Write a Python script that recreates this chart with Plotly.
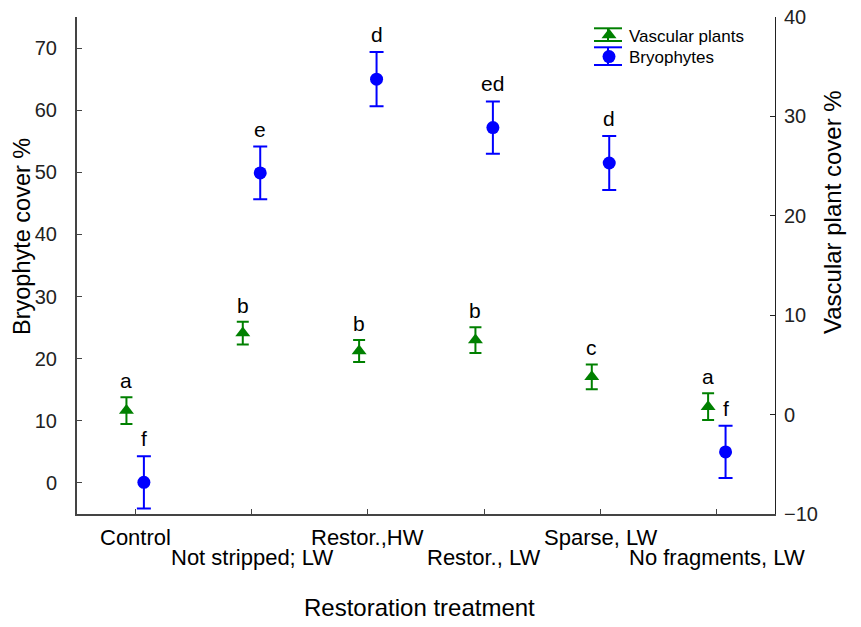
import plotly.graph_objects as go

# ---- data ----
treatments = ["Control", "Not stripped; LW", "Restor.,HW", "Restor., LW", "Sparse, LW", "No fragments, LW"]
bryo_mean = [0.1, 49.9, 65.0, 57.2, 51.5, 5.0]
bryo_err = [4.2, 4.25, 4.35, 4.2, 4.35, 4.2]
bryo_letters = ["f", "e", "d", "ed", "d", "f"]
vasc_mean = [0.4, 8.2, 6.4, 7.5, 3.8, 0.8]
vasc_err = [1.35, 1.15, 1.1, 1.3, 1.25, 1.35]
vasc_letters = ["a", "b", "b", "b", "c", "a"]
left_ticks = [0, 10, 20, 30, 40, 50, 60, 70]
right_ticks = [-10, 0, 10, 20, 30, 40]

GREEN = "#008000"
BLUE = "#0000FF"
FONT = "Liberation Sans, Arial, sans-serif"
OFF = 0.075

W, H = 861, 627
ML, MR, MT, MB = 77, 86, 17, 113
PW, PH = W - ML - MR, H - MT - MB


def px_x(px):  # window pixel -> paper x
    return (px - ML) / PW


def px_y(py):  # window pixel -> paper y
    return (H - MB - py) / PH


idx = list(range(len(treatments)))
xv = [i - OFF for i in idx]
xb = [i + OFF for i in idx]

fig = go.Figure()
fig.add_trace(go.Scatter(
    x=xv, y=vasc_mean, yaxis="y2", mode="markers", name="Vascular plants", legend="legend",
    marker=dict(symbol="triangle-up", size=13, color=GREEN),
    error_y=dict(type="data", array=vasc_err, color=GREEN, thickness=2, width=6),
))
fig.add_trace(go.Scatter(
    x=xb, y=bryo_mean, yaxis="y", mode="markers", name="Bryophytes", legend="legend2",
    marker=dict(symbol="circle", size=13, color=BLUE),
    error_y=dict(type="data", array=bryo_err, color=BLUE, thickness=2, width=7),
))

ann = []
for i in idx:
    ann.append(dict(x=xv[i], y=vasc_mean[i] + vasc_err[i], xref="x", yref="y2",
                    text=vasc_letters[i], showarrow=False, yanchor="bottom", yshift=3,
                    font=dict(size=21, color="black", family=FONT)))
    ann.append(dict(x=xb[i], y=bryo_mean[i] + bryo_err[i], xref="x", yref="y",
                    text=bryo_letters[i], showarrow=False, yanchor="bottom", yshift=4,
                    font=dict(size=21, color="black", family=FONT)))
    ann.append(dict(x=i, y=0, xref="x", yref="paper", text=treatments[i], showarrow=False,
                    yanchor="middle", yshift=-23 if i % 2 == 0 else -43,
                    font=dict(size=22, color="black", family=FONT)))

ann.append(dict(x=px_x(419), y=px_y(607), xref="paper", yref="paper", text="Restoration treatment",
                showarrow=False, xanchor="center", yanchor="middle",
                font=dict(size=24, color="black", family=FONT)))
ann.append(dict(x=px_x(22), y=px_y(237), xref="paper", yref="paper", text="Bryophyte cover %",
                showarrow=False, textangle=-90, xanchor="center", yanchor="middle",
                font=dict(size=23.5, color="black", family=FONT)))
ann.append(dict(x=px_x(832), y=px_y(212), xref="paper", yref="paper", text="Vascular plant cover %",
                showarrow=False, textangle=-90, xanchor="center", yanchor="middle",
                font=dict(size=24, color="black", family=FONT)))

# legend symbol caps (error-bar style legend keys)
shapes = []
for (top, bot, col) in [(28.3, 41.0, GREEN), (47.3, 65.0, BLUE)]:
    for yy in (top, bot):
        shapes.append(dict(type="line", xref="paper", yref="paper",
                           x0=px_x(594), x1=px_x(622), y0=px_y(yy), y1=px_y(yy),
                           line=dict(color=col, width=2)))
    shapes.append(dict(type="line", xref="paper", yref="paper",
                       x0=px_x(608), x1=px_x(608), y0=px_y(top), y1=px_y(bot),
                       line=dict(color=col, width=2)))

leg_common = dict(xanchor="left", yanchor="middle", bgcolor="rgba(0,0,0,0)",
                  font=dict(size=17, family=FONT, color="black"), itemwidth=30,
                  borderwidth=0)

fig.update_layout(
    width=W, height=H,
    margin=dict(l=ML, r=MR, t=MT, b=MB, pad=0),
    paper_bgcolor="white", plot_bgcolor="white",
    font=dict(family=FONT, size=19, color="black"),
    showlegend=True,
    hovermode=False,
    legend=dict(x=px_x(589), y=px_y(35.5), **leg_common),
    legend2=dict(x=px_x(589), y=px_y(57), **leg_common),
    xaxis=dict(range=[-0.5, 5.5], tickvals=idx, showticklabels=False, ticks="inside",
               ticklen=5, tickcolor="#444", showgrid=False, zeroline=False, automargin=False,
               showline=True, linecolor="#444", linewidth=2),
    yaxis=dict(range=[-5, 75], tickvals=left_ticks, ticks="inside", ticklen=5, tickcolor="#444",
               showgrid=False, zeroline=False, showline=True, linecolor="#444", linewidth=2,
               automargin=False, ticklabelstandoff=14, ticklabeloverflow="allow",
               tickfont=dict(size=20, family=FONT, color="#222")),
    yaxis2=dict(range=[-10, 40], tickvals=right_ticks, overlaying="y", side="right",
                ticks="inside", ticklen=5, tickcolor="#222", showgrid=False, zeroline=False,
                showline=True, linecolor="#222", linewidth=1, automargin=False,
                ticklabelstandoff=4, ticklabeloverflow="allow",
                tickfont=dict(size=20, family=FONT, color="#222")),
    annotations=ann,
    shapes=shapes,
)

fig.write_html("out.html", config={"displayModeBar": False},
               post_script="document.body.style.margin='0';")
